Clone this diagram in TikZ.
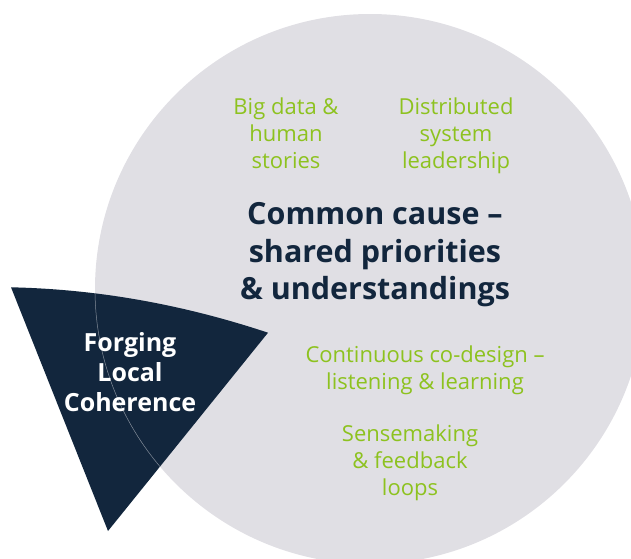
\documentclass[tikz,border=0pt]{standalone}
\usepackage{fontspec}
\setmainfont{Open Sans}
\usetikzlibrary{positioning}

\definecolor{discgray}{HTML}{E0DFE4}
\definecolor{navy}{HTML}{12263D}
\definecolor{leafgreen}{HTML}{8DC21F}

% outline of the dark wedge (corners and gently bowed top edge)
\newcommand{\wedgepath}{(11,287.3) .. controls (96.7,289.1) and (182.3,304.2) .. (268,332.7) -- (108,531) -- cycle}

\tikzset{
  theme/.style={align=center, text=leafgreen, inner sep=0pt,
    font=\fontsize{22}{27}\selectfont},
  core/.style={align=center, text=navy, inner sep=0pt,
    font=\fontsize{30.5}{37.5}\selectfont\bfseries},
  focus/.style={align=center, text=white, inner sep=0pt,
    font=\fontsize{25}{30}\selectfont\bfseries},
}

\begin{document}
\begin{tikzpicture}[x=1pt, y=-1pt]
    \useasboundingbox (0,0) rectangle (631,558);

    % Big background disc
    \node[circle, fill=discgray, minimum size=550pt, inner sep=0pt] (disc) at (370,289) {};

    % Wedge in front, with the disc rim showing faintly through it
    \fill[navy] \wedgepath;
    \begin{scope}
        \clip \wedgepath;
        \draw[line width=0.5pt, color=discgray!55!navy] (disc) circle [radius=275pt];
    \end{scope}

    % Themes around the common cause
    \node[theme] (bigdata) at (286,133) {Big data \&\\human\\stories};
    \node[theme] (leadership) at (456,135.3) {Distributed\\system\\leadership};
    \node[core] (cause) at (375,255) {Common cause –\\shared priorities\\\& understandings};
    \node[theme] (codesign) at (425,370) {Continuous co-design –\\listening \& learning};
    \node[theme] (sensemaking) at (410,462.7) {Sensemaking\\\& feedback\\loops};

    % Wedge label
    \node[focus] (forging) at (130,372.5) {Forging\\Local\\Coherence};
\end{tikzpicture}
\end{document}
